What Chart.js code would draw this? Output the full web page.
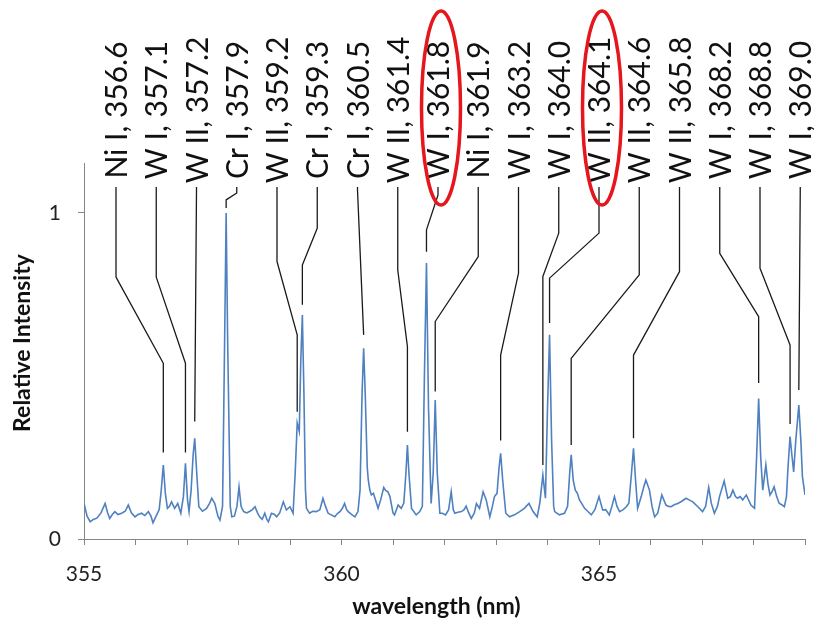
<!DOCTYPE html>
<html>
<head>
<meta charset="utf-8">
<script src="https://cdn.jsdelivr.net/npm/chart.js@4.4.1/dist/chart.umd.min.js"></script>
<style>
  html, body { margin: 0; padding: 0; background: #ffffff; }
  #wrap { width: 814px; height: 621px; }
</style>
</head>
<body>
<div id="wrap"><canvas id="c" width="814" height="621"></canvas></div>
<script>
// ---------- data ----------
const wavelength = [
  355.00,355.06,355.12,355.18,355.25,355.33,355.41,355.46,355.50,355.55,355.60,355.66,355.73,355.80,355.86,355.92,355.99,
  356.05,356.12,356.18,356.25,356.30,356.34,356.40,356.46,356.50,356.54,356.58,356.62,356.66,356.70,356.76,356.82,356.88,
  356.93,356.97,357.01,357.04,357.08,357.12,357.15,357.19,357.23,357.30,357.38,357.44,357.48,357.54,357.60,357.64,357.69,
  357.73,357.76,357.79,357.84,357.87,357.92,357.97,358.01,358.05,358.10,358.16,358.22,358.27,358.32,358.37,358.41,358.46,
  358.51,358.55,358.58,358.64,358.70,358.74,358.80,358.87,358.93,359.00,359.06,359.10,359.14,359.18,359.21,359.24,359.27,
  359.30,359.32,359.38,359.44,359.51,359.58,359.64,359.69,359.74,359.80,359.87,359.92,359.97,360.02,360.06,360.10,360.13,
  360.20,360.26,360.32,360.36,360.40,360.43,360.46,360.50,360.52,360.55,360.58,360.62,360.65,360.71,360.76,360.82,360.86,
  360.90,360.94,361.00,361.03,361.10,361.16,361.21,361.25,361.28,361.31,361.36,361.45,361.52,361.57,361.61,361.65,361.69,
  361.74,361.78,361.82,361.86,361.91,361.96,362.02,362.08,362.13,362.17,362.20,362.26,362.33,362.38,362.42,362.47,362.52,
  362.58,362.62,362.68,362.75,362.81,362.88,362.93,362.97,363.02,363.06,363.09,363.13,363.19,363.26,363.36,363.46,363.55,
  363.64,363.72,363.80,363.85,363.91,363.96,364.00,364.04,364.08,364.12,364.14,364.23,364.33,364.39,364.43,364.46,364.50,
  364.54,364.58,364.62,364.66,364.72,364.78,364.85,364.92,365.00,365.07,365.13,365.20,365.25,365.30,365.35,365.40,365.47,
  365.53,365.58,365.63,365.67,365.71,365.75,365.82,365.87,365.91,365.98,366.03,366.08,366.14,366.22,366.30,366.35,366.40,
  366.46,366.53,366.60,366.69,366.75,366.82,366.92,367.01,367.07,367.13,367.18,367.24,367.30,367.34,367.43,367.50,367.55,
  367.60,367.65,367.69,367.74,367.79,367.86,367.95,368.02,368.06,368.10,368.14,368.18,368.24,368.28,368.32,368.36,368.40,
  368.45,368.50,368.55,368.60,368.64,368.67,368.71,368.75,368.78,368.82,368.88,368.92,368.95,369.00
];
const intensity = [
  0.109,0.070,0.053,0.060,0.064,0.080,0.109,0.080,0.063,0.075,0.084,0.075,0.079,0.085,0.104,0.080,0.068,
  0.075,0.079,0.072,0.084,0.070,0.050,0.070,0.090,0.150,0.227,0.140,0.094,0.100,0.114,0.094,0.109,0.079,
  0.130,0.232,0.120,0.084,0.150,0.260,0.309,0.200,0.099,0.085,0.094,0.110,0.125,0.109,0.070,0.058,0.100,
  0.600,1.000,0.600,0.100,0.068,0.070,0.100,0.160,0.100,0.084,0.080,0.085,0.090,0.099,0.080,0.068,0.060,
  0.079,0.060,0.053,0.079,0.075,0.068,0.080,0.114,0.089,0.099,0.079,0.200,0.356,0.330,0.550,0.687,0.450,
  0.150,0.094,0.079,0.085,0.084,0.090,0.125,0.100,0.079,0.074,0.068,0.078,0.084,0.095,0.109,0.090,0.084,
  0.075,0.068,0.084,0.150,0.450,0.585,0.450,0.220,0.181,0.150,0.135,0.140,0.125,0.094,0.120,0.158,0.148,
  0.145,0.130,0.080,0.074,0.104,0.094,0.110,0.200,0.288,0.200,0.094,0.074,0.084,0.100,0.500,0.846,0.400,
  0.109,0.200,0.426,0.200,0.079,0.079,0.074,0.090,0.145,0.090,0.079,0.082,0.084,0.090,0.101,0.080,0.063,
  0.080,0.109,0.094,0.145,0.120,0.068,0.100,0.130,0.140,0.220,0.263,0.180,0.079,0.068,0.074,0.084,0.094,
  0.109,0.084,0.068,0.110,0.196,0.125,0.400,0.626,0.300,0.100,0.084,0.074,0.079,0.100,0.200,0.258,0.180,
  0.150,0.140,0.120,0.110,0.094,0.085,0.074,0.090,0.130,0.089,0.090,0.074,0.100,0.130,0.100,0.084,0.090,
  0.099,0.110,0.200,0.278,0.180,0.094,0.130,0.160,0.181,0.150,0.100,0.068,0.079,0.135,0.104,0.100,0.099,
  0.105,0.109,0.115,0.125,0.120,0.114,0.099,0.084,0.100,0.158,0.110,0.079,0.100,0.130,0.178,0.125,0.130,
  0.150,0.130,0.125,0.130,0.120,0.135,0.104,0.094,0.250,0.431,0.250,0.150,0.227,0.170,0.135,0.145,0.160,
  0.130,0.109,0.105,0.099,0.130,0.220,0.314,0.250,0.206,0.300,0.411,0.300,0.191,0.135
];

// emission-line annotations
const lineLabels = [
  'Ni I, 356.6','W I, 357.1','W II, 357.2','Cr I, 357.9','W II, 359.2','Cr I, 359.3',
  'Cr I, 360.5','W II, 361.4','W I, 361.8','Ni I, 361.9','W I, 363.2','W I, 364.0',
  'W II, 364.1','W II, 364.6','W II, 365.8','W I, 368.2','W I, 368.8','W I, 369.0'
];
const lineWavelength = [356.54,356.97,357.15,357.76,359.14,359.24,360.43,361.28,361.65,361.82,363.09,363.91,364.04,364.46,365.67,368.10,368.71,368.88];
const leaderBend1 = [0.803,0.803,1.070,1.061,0.851,0.953,1.070,0.825,1.055,0.866,0.815,0.938,0.938,0.810,0.820,0.876,0.830,1.070];
const leaderBend2 = [0.539,0.539,0.360,1.040,0.626,0.840,0.626,0.590,0.948,0.667,0.564,0.805,0.800,0.554,0.564,0.682,0.595,0.457];
const leaderEnd   = [0.265,0.265,0.360,1.015,0.390,0.718,0.626,0.329,0.881,0.452,0.302,0.227,0.662,0.288,0.309,0.478,0.353,0.457];
const circledLabels = ['W I, 361.8','W II, 364.1'];

const xTickLabels = [355, 360, 365];
const yTickLabels = [0, 1];
const xTitle = 'wavelength (nm)';
const yTitle = 'Relative Intensity';

// ---------- drawing ----------
Chart.defaults.font.family = 'Lato';

const annotate = {
  id: 'annotate',
  afterDraw(chart) {
    const ctx = chart.ctx;
    const xs = chart.scales.x, ys = chart.scales.y;
    const ca = chart.chartArea;
    ctx.save();
    // leader lines
    ctx.strokeStyle = '#1a1a1a';
    ctx.lineWidth = 1.3;
    ctx.lineJoin = 'round';
    lineLabels.forEach((lab, i) => {
      const lx = ca.left + 32 + i * 40.25;
      const px = xs.getPixelForValue(lineWavelength[i]);
      ctx.beginPath();
      ctx.moveTo(lx, 187);
      ctx.lineTo(lx, ys.getPixelForValue(leaderBend1[i]));
      ctx.lineTo(px, ys.getPixelForValue(leaderBend2[i]));
      ctx.lineTo(px, ys.getPixelForValue(leaderEnd[i]));
      ctx.stroke();
    });
    // labels
    ctx.fillStyle = '#111111';
    ctx.font = '30px Lato';
    ctx.textAlign = 'center';
    ctx.textBaseline = 'alphabetic';
    lineLabels.forEach((lab, i) => {
      const lx = ca.left + 32 + i * 40.25;
      ctx.save();
      ctx.translate(lx + 11, 110);
      ctx.rotate(-Math.PI / 2);
      ctx.fillText(lab, 0, 0);
      ctx.restore();
    });
    // red ellipses
    ctx.strokeStyle = '#e5161c';
    ctx.lineWidth = 3.5;
    lineLabels.forEach((lab, i) => {
      if (!circledLabels.includes(lab)) return;
      const lx = ca.left + 32 + i * 40.25;
      ctx.beginPath();
      ctx.ellipse(lx + 3, 108, 19.5, 97, 0, 0, Math.PI * 2);
      ctx.stroke();
    });
    // axis titles
    ctx.fillStyle = '#111111';
    ctx.font = 'bold 23px Lato';
    ctx.textAlign = 'center';
    ctx.fillText(xTitle, (ca.left + ca.right) / 2 - 8, 614);
    ctx.save();
    ctx.translate(30, 343);
    ctx.rotate(-Math.PI / 2);
    ctx.fillText(yTitle, 0, 0);
    ctx.restore();
    ctx.restore();
  }
};

new Chart(document.getElementById('c'), {
  type: 'line',
  data: {
    datasets: [{
      data: wavelength.map((w, i) => ({ x: w, y: intensity[i] })),
      borderColor: '#4f80c0',
      borderWidth: 1.6,
      pointRadius: 0,
      tension: 0,
      fill: false
    }]
  },
  options: {
    responsive: false,
    animation: false,
    layout: { padding: { left: 0, right: 9, top: 163, bottom: 0 } },
    plugins: { legend: { display: false }, tooltip: { enabled: false } },
    scales: {
      x: {
        type: 'linear', min: 355, max: 369,
        afterBuildTicks: s => { const t = []; for (let v = 355; v <= 369; v++) t.push({ value: v }); s.ticks = t; },
        ticks: {
          autoSkip: false, maxRotation: 0, padding: 17, color: '#222222',
          font: { family: 'Lato', size: 21 },
          callback: v => xTickLabels.includes(v) ? String(v) : ''
        },
        grid: { drawOnChartArea: false, drawTicks: true, tickLength: 6, color: '#868686' },
        border: { color: '#868686', width: 1 },
        afterFit: s => { s.height = 82; s.paddingLeft = 0; s.paddingRight = 0; }
      },
      y: {
        min: 0, max: 1.153,
        afterBuildTicks: s => { s.ticks = yTickLabels.map(v => ({ value: v })); },
        ticks: {
          padding: 17, color: '#222222',
          font: { family: 'Lato', size: 21 },
          callback: v => String(v)
        },
        grid: { drawOnChartArea: false, drawTicks: true, tickLength: 6, color: '#868686' },
        border: { color: '#868686', width: 1 },
        afterFit: s => { s.width = 84; s.paddingTop = 0; s.paddingBottom = 0; }
      }
    }
  },
  plugins: [annotate]
});
</script>
</body>
</html>
